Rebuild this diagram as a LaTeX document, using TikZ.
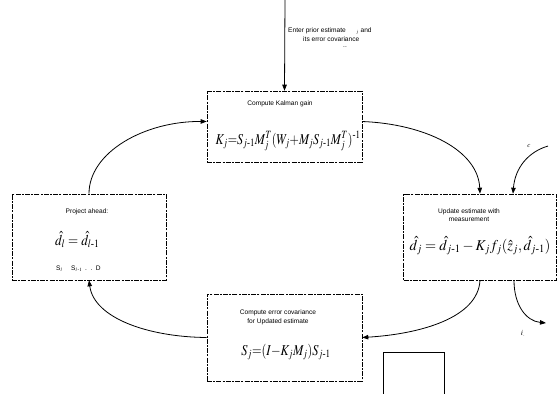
\documentclass[tikz,border=0pt]{standalone}
\usepackage{amsmath}
\usepackage{graphicx}
\usepackage{mathptmx}
\usepackage[no-math]{fontspec}
\setmainfont{Liberation Serif}
\setsansfont{Liberation Sans}
\usetikzlibrary{arrows.meta}
\tikzset{
  box/.style={draw=black, line width=0.6pt, dash pattern=on 5pt off 1.2pt on 2pt off 1.2pt, inner sep=0pt},
  tiny/.style={font=\fontsize{6.6}{7.6}\selectfont\sffamily, align=center, inner sep=0pt},
  formula/.style={font=\fontsize{15}{18}\selectfont, inner sep=0pt},
  conn/.style={line width=0.8pt, -{Triangle[length=6pt,width=4.5pt]}}
}
\begin{document}
\begin{tikzpicture}[x=1pt,y=-1pt]
\useasboundingbox (0,0) rectangle (558,394);
% boxes
\node[box, minimum width=155pt, minimum height=71pt] (gain) at (284.5,126.5) {};
\node[box, minimum width=154pt, minimum height=86pt] (proj) at (89,237) {};
\node[box, minimum width=153pt, minimum height=86pt] (upd) at (480,237) {};
\node[box, minimum width=155pt, minimum height=87pt] (cov) at (284.5,337.5) {};
% texts
\node[tiny, anchor=west] (entertxt) at (288,31) {Enter prior estimate \quad\ ${}_{j}$ and};
\node[tiny, anchor=west] (errtxt) at (303,39) {its error covariance};
\node[tiny] (dots) at (345,47) {..};
\node[tiny] (gaintxt) at (280,104) {Compute Kalman gain};
\node[formula] (gainf) at (288,141) {\scalebox{0.8}[1]{$K_j{=}S_{j\text{-}1}M_j^T(W_j{+}M_jS_{j\text{-}1}M_j^T)^{\text{-}1}$}};
\node[tiny] (projtxt) at (87,212) {Project ahead:};
\node[formula, anchor=west] (projf) at (55,240) {\scalebox{0.87}[1]{$\hat{d}_l=\hat{d}_{l\text{-}1}$}};
\node[tiny, anchor=west] (projs) at (56,269) {S$_l$\quad\ S$_{l\,\text{-}1}$ \,.\, .\, D};
\node[tiny] (updtxt) at (469,215) {Update estimate with\\[1pt]measurement};
\node[formula] (updf) at (480,246) {\scalebox{0.95}[1]{$\hat{d}_j=\hat{d}_{j\text{-}1}-K_jf_j(\hat{z}_j,\hat{d}_{j\text{-}1})$}};
\node[tiny] (covtxt) at (278,317) {Compute error covariance\\[1pt]for Updated estimate};
\node[formula] (covf) at (286,352) {\scalebox{0.82}[1]{$S_j{=}(I{-}K_jM_j)S_{j\text{-}1}$}};
\node[font=\fontsize{7}{8}\selectfont, inner sep=0pt] (clab) at (529,146) {$c$};
\node[font=\fontsize{8}{9}\selectfont, inner sep=0pt] (ilab) at (523,334) {$i_{\cdot}$};
% free ends
\coordinate (src) at (285,0);
\coordinate (csrc) at (548,146);
\coordinate (iout) at (546,323);
% connectors
\draw[conn] (src) -- (gain.north);
\draw[conn] (proj.north) .. controls (89,152) and (145,121) .. ([yshift=5pt]gain.west);
\draw[conn] ([yshift=5pt]gain.east) .. controls (425,124) and (478,150) .. (upd.north);
\draw[conn] (csrc) .. controls (528,152) and (515,168) .. ([xshift=33pt]upd.north);
\draw[conn] (upd.south) .. controls (478,318) and (420,334) .. (cov.east);
\draw[conn] ([xshift=34pt]upd.south) .. controls (514,305) and (526,321) .. (iout);
\draw[conn] (cov.west) .. controls (148,337) and (94,318) .. (proj.south);
% small open rectangle
\draw[line width=0.7pt] (383,394) -- (383,352) -- (444,352) -- (444,394);
\end{tikzpicture}
\end{document}
